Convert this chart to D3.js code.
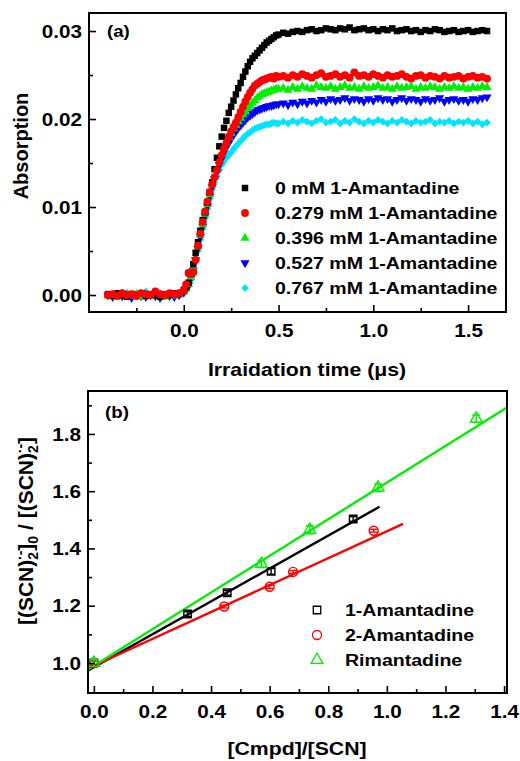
<!DOCTYPE html>
<html>
<head>
<meta charset="utf-8">
<script src="https://cdn.jsdelivr.net/npm/d3@7"></script>
<style>
  body { margin: 0; background: #fff; }
  svg text { font-family: "Liberation Sans", Arial, sans-serif; font-weight: bold; fill: #000; }
</style>
</head>
<body>
<svg id="chart" width="520" height="761"></svg>
<script>
// ---- panel (a) data: absorption in units of 1e-3 ----
// baseline (-0.4..-0.025), rise (0..0.5, finer sampling), plateau (0.525..1.6)
const timeUs = [
  -0.4, -0.375, -0.35, -0.325, -0.3, -0.275, -0.25, -0.225, -0.2, -0.175, -0.15, -0.125, -0.1, -0.075, -0.05, -0.025,
  0, 0.0125, 0.025, 0.0375, 0.05, 0.0625, 0.075, 0.0875, 0.1, 0.1125, 0.125, 0.1375, 0.15, 0.1625, 0.175, 0.1875, 0.2,
  0.2125, 0.225, 0.2375, 0.25, 0.2625, 0.275, 0.2875, 0.3, 0.3125, 0.325, 0.3375, 0.35, 0.3625, 0.375, 0.3875, 0.4,
  0.4125, 0.425, 0.4375, 0.45, 0.4625, 0.475, 0.4875, 0.5,
  0.525, 0.55, 0.575, 0.6, 0.625, 0.65, 0.675, 0.7, 0.725, 0.75, 0.775, 0.8, 0.825, 0.85, 0.875, 0.9, 0.925, 0.95, 0.975, 1.0,
  1.025, 1.05, 1.075, 1.1, 1.125, 1.15, 1.175, 1.2, 1.225, 1.25, 1.275, 1.3, 1.325, 1.35, 1.375, 1.4, 1.425, 1.45, 1.475, 1.5,
  1.525, 1.55, 1.575, 1.6
];
const abs0 = [
  0.1, -0.1, 0.2, 0.0, -0.2, 0.1, 0.0, 0.2, -0.1, 0.1, 0.0, -0.2, 0.1, 0.0, 0.2, 0.1,
  0.6, 0.9, 1.4, 2.4, 3.5, 4.8, 6.0, 7.3, 8.5, 9.4, 10.5, 11.7, 12.8, 14.3, 15.6, 16.9, 18.0,
  19.0, 19.8, 20.7, 21.4, 22.1, 22.8, 23.5, 24.1, 24.8, 25.4, 26.0, 26.5, 26.9, 27.2, 27.5, 27.8,
  28.1, 28.4, 28.7, 28.9, 29.1, 29.3, 29.5, 29.6,
  29.8, 29.7, 29.9, 30.0, 29.9, 30.1, 30.2, 30.0, 30.1, 30.3, 30.2, 30.1, 30.3, 30.2, 30.4, 30.1, 30.2, 30.3, 30.1, 30.2,
  30.0, 30.2, 30.1, 30.3, 30.0, 30.1, 30.2, 30.0, 30.1, 29.9, 30.1, 30.0, 30.2, 30.1, 29.9, 30.0, 30.1, 29.9, 30.0, 30.1,
  29.9, 30.0, 30.1, 30.0
];
const abs279 = [
  0.0, 0.1, -0.1, 0.2, 0.0, 0.1, -0.1, 0.2, 0.1, 0.0, 0.4, 0.1, 0.0, 0.2, 0.1, 0.2,
  0.5, 1.2, 2.5, 2.4, 2.6, 4.0, 5.6, 7.0, 8.3, 9.5, 10.6, 11.7, 12.6, 13.4, 14.2, 15.1, 15.9,
  16.6, 17.3, 18.0, 18.6, 19.1, 19.6, 20.2, 20.8, 21.4, 22.0, 22.5, 23.0, 23.4, 23.8, 24.0, 24.2,
  24.4, 24.5, 24.6, 24.7, 24.8, 24.6, 24.9, 24.8,
  24.9, 24.7, 25.0, 24.8, 25.1, 24.9, 24.7, 25.0, 25.2, 24.8, 24.9, 25.1, 24.8, 25.0, 24.7, 25.3, 24.9, 25.0, 24.8, 25.1,
  24.9, 24.7, 25.0, 24.8, 24.9, 25.1, 24.8, 24.6, 24.9, 25.0, 24.7, 24.9, 24.8, 24.6, 24.9, 24.7, 24.8, 24.9, 24.6, 24.8,
  24.9, 24.7, 24.8, 24.6
];
const abs396 = [
  -0.1, 0.0, -0.2, 0.1, 0.0, -0.1, 0.1, -0.2, 0.0, -0.1, 0.1, 0.0, -0.2, 0.0, -0.1, 0.1,
  0.4, 0.7, 1.2, 2.0, 3.0, 4.2, 5.5, 6.8, 8.0, 9.2, 10.3, 11.4, 12.5, 13.4, 14.3, 15.2, 16.0,
  16.7, 17.3, 17.9, 18.4, 18.9, 19.3, 19.7, 20.1, 20.5, 20.8, 21.2, 21.5, 21.8, 22.1, 22.4, 22.6,
  22.8, 22.9, 23.0, 23.1, 23.2, 23.3, 23.4, 23.4,
  23.5, 23.3, 23.6, 23.4, 23.7, 23.5, 23.4, 23.8, 23.6, 23.5, 23.7, 23.4, 23.6, 23.8, 23.5, 23.6, 23.4, 23.7, 23.5, 23.6,
  23.8, 23.5, 23.6, 23.4, 23.7, 23.5, 23.6, 23.7, 23.4, 23.6, 23.5, 23.7, 23.6, 23.4, 23.6, 23.5, 23.7, 23.5, 23.6, 23.4,
  23.6, 23.5, 23.7, 23.6
];
const abs527 = [
  0.0, -0.2, 0.1, -0.1, 0.0, -0.3, 0.0, -0.1, -0.2, 0.0, -0.1, -0.3, 0.0, -0.1, -0.2, 0.0,
  0.3, 0.6, 1.1, 1.9, 2.8, 4.0, 5.3, 6.6, 7.8, 9.0, 10.1, 11.2, 12.3, 13.2, 14.0, 14.8, 15.5,
  16.2, 16.8, 17.3, 17.8, 18.2, 18.6, 19.0, 19.3, 19.6, 19.9, 20.2, 20.4, 20.6, 20.8, 21.0, 21.1,
  21.2, 21.3, 21.4, 21.5, 21.5, 21.6, 21.7, 21.7,
  21.8, 21.6, 21.9, 21.7, 22.0, 21.8, 22.1, 21.9, 22.2, 22.0, 22.3, 22.1, 22.2, 22.4, 22.1, 22.3, 22.2, 22.0, 22.3, 22.1,
  22.4, 22.2, 22.3, 22.0, 22.2, 22.4, 22.1, 22.3, 22.2, 22.0, 22.3, 22.1, 22.2, 22.4, 22.0, 22.2, 22.3, 22.1, 22.2, 22.0,
  22.3, 22.2, 22.4, 22.5
];
const abs767 = [
  0.1, 0.0, -0.1, 0.2, 0.3, 0.0, -0.1, 0.1, 0.4, 0.0, -0.1, -0.3, 0.1, 0.0, -0.2, 0.1,
  0.3, 0.6, 1.0, 1.7, 2.6, 3.8, 5.0, 6.3, 7.5, 8.7, 9.8, 10.9, 12.0, 12.8, 13.5, 14.2, 14.8,
  15.2, 15.6, 15.9, 16.2, 16.6, 16.9, 17.2, 17.5, 17.8, 18.1, 18.3, 18.5, 18.7, 18.9, 19.0, 19.1,
  19.2, 19.3, 19.4, 19.4, 19.5, 19.6, 19.5, 19.5,
  19.7, 19.5, 19.8, 19.6, 19.9, 19.7, 19.5, 19.8, 20.0, 19.6, 19.7, 19.9, 19.5, 19.8, 19.6, 20.0, 19.7, 19.5, 19.8, 19.6,
  19.9, 19.7, 19.5, 19.8, 19.6, 19.9, 19.7, 19.5, 19.8, 19.6, 19.7, 19.9, 19.5, 19.7, 19.6, 19.8, 19.5, 19.7, 19.6, 19.8,
  19.5, 19.7, 19.4, 19.6
];
const seriesLabelsA = ["0 mM 1-Amantadine", "0.279 mM 1-Amantadine", "0.396 mM 1-Amantadine", "0.527 mM 1-Amantadine", "0.767 mM 1-Amantadine"];
const xTicksA = [0, 0.5, 1.0, 1.5];
const xMinorA = [-0.25, 0.25, 0.75, 1.25];
const yTicksA = [0, 10, 20, 30];
const yMinorA = [5, 15, 25];

// ---- panel (b) data ----
const ratio1 = [0, 0.32, 0.455, 0.605, 0.885];
const value1 = [1.0, 1.171, 1.245, 1.32, 1.503];
const err1 = [0.01, 0.008, 0.008, 0.01, 0.008];
const ratio2 = [0, 0.445, 0.6, 0.68, 0.955];
const value2 = [1.0, 1.197, 1.266, 1.318, 1.462];
const err2 = [0.006, 0.005, 0.006, 0.005, 0.005];
const ratio3 = [0, 0.572, 0.737, 0.97, 1.305];
const value3 = [1.0, 1.346, 1.465, 1.612, 1.853];
const err3 = [0.012, 0.013, 0.014, 0.013, 0.013];
// linear fits: [intercept, slope, xEnd]
const fit1 = [0.985, 0.575, 0.975];
const fit2 = [0.99, 0.47, 1.055];
const fit3 = [0.99, 0.64, 1.41];
const seriesLabelsB = ["1-Amantadine", "2-Amantadine", "Rimantadine"];
const xTicksB = [0, 0.2, 0.4, 0.6, 0.8, 1.0, 1.2, 1.4];
const xMinorB = [0.1, 0.3, 0.5, 0.7, 0.9, 1.1, 1.3];
const yTicksB = [1.0, 1.2, 1.4, 1.6, 1.8];
const yMinorB = [1.1, 1.3, 1.5, 1.7, 1.9];

const svg = d3.select("#chart");
const SX = 1.15; // horizontal text stretch seen in the figure

function label(g, x, y, str, size, anchor, sx) {
    return g.append("text")
        .attr("transform", `translate(${x},${y}) scale(${sx || SX},1)`)
        .attr("text-anchor", anchor || "start")
        .style("font-size", size + "px")
        .text(str);
}

function frameAxes(g, x, y, xt, xm, yt, ym, fx, fy) {
    const [x0, x1] = x.range(), [y0, y1] = y.range();
    const bx = g.append("g").attr("transform", `translate(0,${y0})`)
        .call(d3.axisBottom(x).tickValues(xt).tickSize(-7).tickFormat(fx));
    g.append("g").attr("transform", `translate(0,${y0})`)
        .call(d3.axisBottom(x).tickValues(xm).tickSize(-4).tickFormat(""));
    const ly = g.append("g").attr("transform", `translate(${x0},0)`)
        .call(d3.axisLeft(y).tickValues(yt).tickSize(-7).tickFormat(fy));
    g.append("g").attr("transform", `translate(${x0},0)`)
        .call(d3.axisLeft(y).tickValues(ym).tickSize(-4).tickFormat(""));
    g.selectAll(".domain").remove();
    g.selectAll(".tick line").attr("stroke", "#000").attr("stroke-width", 1.6);
    bx.selectAll("text").attr("y", 25).attr("dy", null)
        .attr("transform", `scale(${SX},1)`).style("font-size", "18px");
    ly.selectAll("text").attr("x", -6).attr("dy", "0.35em")
        .attr("transform", `scale(${SX},1)`).style("font-size", "18px");
    g.append("rect")
        .attr("x", x0).attr("y", y1).attr("width", x1 - x0).attr("height", y0 - y1)
        .attr("fill", "none").attr("stroke", "#000").attr("stroke-width", 2);
}

// ================= panel (a) =================
const xA = d3.scaleLinear().domain([-0.5, 1.7]).range([89, 506]);
const yA = d3.scaleLinear().domain([-1.93, 32.05]).range([312, 13]);
const gA = svg.append("g");

const symA = [
    { color: "#000000", path: d3.symbol(d3.symbolSquare, 42)(), rot: 0 },
    { color: "#ff0000", path: d3.symbol(d3.symbolCircle, 48)(), rot: 0 },
    { color: "#00ee00", path: d3.symbol(d3.symbolTriangle, 36)(), rot: 0 },
    { color: "#0000ff", path: d3.symbol(d3.symbolTriangle, 36)(), rot: 180 },
    { color: "#00e5ff", path: d3.symbol(d3.symbolSquare, 30)(), rot: 45 }
];
const valuesA = [abs0, abs279, abs396, abs527, abs767];
const drawOrder = [4, 3, 2, 0, 1];

drawOrder.forEach(i => {
    const pts = timeUs.map((t, j) => [t, valuesA[i][j]]).filter(d => d[1] !== undefined);
    gA.append("g").selectAll("path")
        .data(pts)
        .enter()
        .append("path")
        .attr("d", symA[i].path)
        .attr("transform", d => `translate(${xA(d[0])},${yA(d[1])}) rotate(${symA[i].rot})`)
        .attr("fill", symA[i].color);
});

frameAxes(gA, xA, yA, xTicksA, xMinorA, yTicksA, yMinorA,
    d3.format(".1f"), d => (d / 1000).toFixed(2));

// legend (a)
seriesLabelsA.forEach((s, i) => {
    const cy = 188 + i * 25;
    gA.append("path")
        .attr("d", symA[i].path)
        .attr("transform", `translate(245,${cy}) rotate(${symA[i].rot})`)
        .attr("fill", symA[i].color);
    label(gA, 275, cy + 6, s, 17);
});
label(gA, 107, 37, "(a)", 17, "start", 1.1);
label(gA, 307, 376, "Irraidation time (\u03bcs)", 18, "middle", 1.18);
gA.append("text")
    .attr("transform", "translate(28,146) rotate(-90)")
    .attr("text-anchor", "middle")
    .style("font-size", "20px")
    .text("Absorption");

// ================= panel (b) =================
const xB = d3.scaleLinear().domain([-0.02, 1.41]).range([88, 507]);
const yB = d3.scaleLinear().domain([0.895, 1.95]).range([693, 391]);
const gB = svg.append("g");

const groupsB = [
    { r: ratio1, v: value1, e: err1, fit: fit1, color: "#000000", sym: d3.symbol(d3.symbolSquare, 56)() },
    { r: ratio2, v: value2, e: err2, fit: fit2, color: "#ff0000", sym: d3.symbol(d3.symbolCircle, 64)() },
    { r: ratio3, v: value3, e: err3, fit: fit3, color: "#00ee00", sym: d3.symbol(d3.symbolTriangle, 60)() }
];

// fit lines
groupsB.forEach(gr => {
    const xs = [xB.domain()[0], gr.fit[2]];
    gB.append("line")
        .attr("x1", xB(xs[0])).attr("y1", yB(gr.fit[0] + gr.fit[1] * xs[0]))
        .attr("x2", xB(xs[1])).attr("y2", yB(gr.fit[0] + gr.fit[1] * xs[1]))
        .attr("stroke", gr.color).attr("stroke-width", 2.4);
});

// points with error bars
groupsB.forEach(gr => {
    const pts = gr.r.map((r, j) => ({ r: r, v: gr.v[j], e: gr.e[j] }));
    const pg = gB.append("g").attr("stroke", gr.color).attr("stroke-width", 1.4).attr("fill", "none");
    pts.forEach(p => {
        const cx = xB(p.r);
        pg.append("line").attr("x1", cx).attr("x2", cx)
            .attr("y1", yB(p.v - p.e)).attr("y2", yB(p.v + p.e));
        [p.v - p.e, p.v + p.e].forEach(v => {
            pg.append("line").attr("x1", cx - 4).attr("x2", cx + 4)
                .attr("y1", yB(v)).attr("y2", yB(v));
        });
        pg.append("path").attr("d", gr.sym)
            .attr("transform", `translate(${cx},${yB(p.v)})`);
    });
});

frameAxes(gB, xB, yB, xTicksB, xMinorB, yTicksB, yMinorB,
    d3.format(".1f"), d3.format(".1f"));

// legend (b)
seriesLabelsB.forEach((s, i) => {
    const cy = 610 + i * 25;
    gB.append("path")
        .attr("d", groupsB[i].sym)
        .attr("transform", `translate(317,${cy})`)
        .attr("fill", "none").attr("stroke", groupsB[i].color).attr("stroke-width", 1.3);
    label(gB, 345, cy + 6, s, 17);
});
label(gB, 105, 418, "(b)", 17, "start", 1.1);
label(gB, 297, 755, "[Cmpd]/[SCN]", 18, "middle", 1.18);

const yt = gB.append("text")
    .attr("transform", "translate(33,531) rotate(-90)")
    .attr("text-anchor", "middle")
    .style("font-size", "21px");
yt.append("tspan").text("[(SCN)");
yt.append("tspan").attr("dy", 5).style("font-size", "14px").text("2");
yt.append("tspan").attr("dx", -8).attr("dy", -13).style("font-size", "14px").text("\u00b7-");
yt.append("tspan").attr("dy", 8).text("]");
yt.append("tspan").attr("dy", 5).style("font-size", "14px").text("0");
yt.append("tspan").attr("dy", -5).text(" / [(SCN)");
yt.append("tspan").attr("dy", 5).style("font-size", "14px").text("2");
yt.append("tspan").attr("dx", -8).attr("dy", -13).style("font-size", "14px").text("\u00b7-");
yt.append("tspan").attr("dy", 8).text("]");
</script>
</body>
</html>
